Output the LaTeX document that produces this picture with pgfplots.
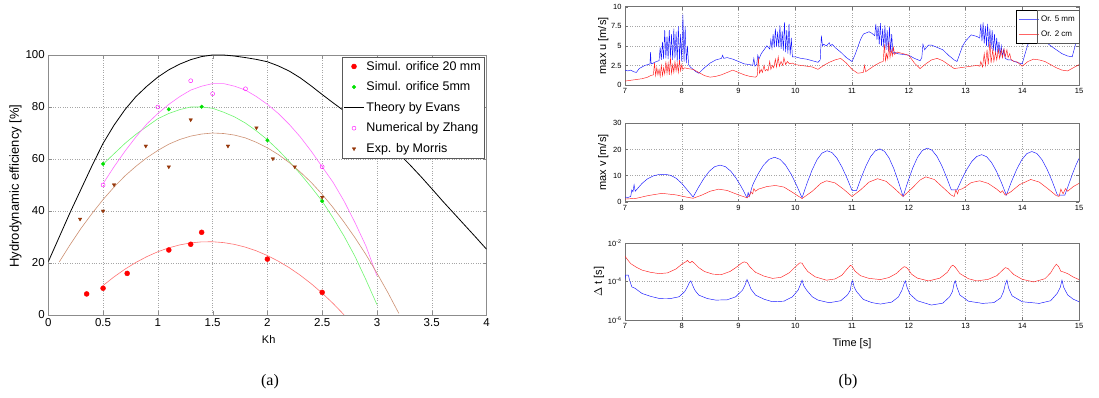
\documentclass[border=0pt]{standalone}
\usepackage{fontspec}
\setmainfont{Liberation Sans}
\newfontfamily\seriffont{Liberation Serif}
\usepackage{pgfplots}
\pgfplotsset{compat=1.18}
\definecolor{cred}{RGB}{255,0,0}
\definecolor{cgreen}{RGB}{0,225,0}
\definecolor{cmag}{RGB}{255,0,255}
\definecolor{cbrown}{RGB}{150,55,10}
\definecolor{fred}{RGB}{255,115,115}
\definecolor{fgreen}{RGB}{110,245,110}
\definecolor{fmag}{RGB}{255,110,255}
\definecolor{fbrown}{RGB}{205,145,115}
\definecolor{bblue}{RGB}{20,20,255}
\definecolor{bred}{RGB}{255,30,30}
\definecolor{lblue}{RGB}{100,100,255}
\definecolor{lred}{RGB}{255,100,100}
\pgfplotsset{
  bstyle/.style={scale only axis, width=454pt, anchor=south west,
    xmin=7, xmax=15, xtick={7,8,...,15},
    grid=major, grid style={dotted, gray!70},
    tick align=inside, major tick length=3pt,
    axis line style={black!55}, tick style={black!55},
    ticklabel style={font=\fontsize{7.5}{8}\selectfont},
    /pgf/number format/assume math mode=true,
    label style={font=\fontsize{11}{12}\selectfont},
    every axis plot/.append style={line width=0.45pt}},
  mleg/.style={legend image code/.code={\draw[mark repeat=2,mark phase=2,##1] plot coordinates {(0pt,0pt) (10pt,0pt) (20pt,0pt)};}},
}
\begin{document}
\begin{tikzpicture}[x=1pt,y=1pt]
\path[use as bounding box] (0,0) rectangle (1099,398);

% ---------------- panel (a)
\begin{axis}[at={(48.3pt,83pt)}, anchor=south west, scale only axis,
  width=438.2pt, height=260pt,
  xmin=0, xmax=4, ymin=0, ymax=100,
  xtick={0,0.5,...,4}, ytick={0,20,...,100},
  grid=major, grid style={dotted, gray!70},
  tick align=inside, major tick length=4pt,
  axis line style={black!45}, tick style={black!45},
  ticklabel style={font=\fontsize{11.5}{13}\selectfont},
  /pgf/number format/assume math mode=true,
  xlabel={Kh}, ylabel={Hydrodynamic efficiency [\%]},
  xlabel style={font=\fontsize{11}{12}\selectfont, at={(axis description cs:0.503,-0.096)}, anchor=center},
  ylabel style={font=\fontsize{13}{14}\selectfont, at={(axis description cs:-0.075,0.496)}, anchor=center},
  legend cell align=left,
  legend style={at={(axis description cs:0.9943,0.9923)}, anchor=north east,
    font=\fontsize{12.5}{14}\selectfont, draw=black!65, row sep=6pt,
    inner xsep=1pt, inner ysep=2pt},
  legend image code/.code={\draw[mark repeat=2,mark phase=2,#1] plot coordinates {(0pt,0pt) (10pt,0pt) (20pt,0pt)};},
]
% fitted curves (not in legend)
\addplot[fred, line width=0.6pt, forget plot] coordinates {
(0.5,11.33)(0.6,14.67)(0.7,17.63)(0.8,20.23)(0.9,22.46)(1.0,24.33)(1.1,25.83)(1.2,26.96)(1.3,27.73)(1.4,28.13)(1.5,28.17)(1.6,27.84)(1.7,27.15)(1.8,26.08)(1.9,24.66)(2.0,22.86)(2.1,20.70)(2.2,18.18)(2.3,15.29)(2.4,12.03)(2.5,8.41)(2.6,4.42)(2.7,0.06)};
\addplot[fgreen, line width=0.6pt, forget plot] coordinates {
(0.5,58)(0.6,62)(0.7,66)(0.8,69.5)(0.9,72.5)(1.0,75.5)(1.1,77.5)(1.2,79)(1.3,80)(1.4,80)(1.5,79.5)(1.6,78)(1.7,76.2)(1.8,73.8)(1.9,70.8)(2.0,67.4)(2.1,63.4)(2.2,59)(2.3,54.3)(2.4,49.2)(2.5,43.8)(2.6,37.3)(2.7,30.3)(2.8,22.5)(2.9,13.5)(3.0,4)};
\addplot[fmag, line width=0.6pt, forget plot] coordinates {
(0.5,50.5)(0.6,57)(0.7,63)(0.8,68.5)(0.9,73.5)(1.0,77.5)(1.1,81)(1.2,84)(1.3,86.5)(1.4,88)(1.5,89)(1.6,89)(1.7,88)(1.8,86.5)(1.9,84)(2.0,81)(2.1,77.5)(2.2,73.3)(2.3,68.5)(2.4,63)(2.5,57)(2.6,51)(2.7,43.8)(2.8,35.5)(2.9,26.5)(3.0,15)};
\addplot[fbrown, line width=0.6pt, forget plot] coordinates {
(0.1,20.4)(0.2,27.1)(0.3,33.4)(0.4,39.1)(0.5,44.4)(0.6,49.2)(0.7,53.5)(0.8,57.2)(0.9,60.5)(1.0,63.3)(1.1,65.7)(1.2,67.5)(1.3,68.8)(1.4,69.6)(1.5,70)(1.6,69.8)(1.7,69.2)(1.8,68.1)(1.9,66.4)(2.0,64.3)(2.1,61.7)(2.2,58.6)(2.3,55.0)(2.4,51.0)(2.5,46.4)(2.6,41.3)(2.7,35.7)(2.8,29.7)(2.9,23.2)(3.0,16.1)(3.1,8.6)(3.2,0.6)};
% legend series
\addplot[only marks, mark=*, mark size=2.5pt, color=cred, draw=cred, mleg] coordinates {
(0.35,8.1)(0.5,10.3)(0.72,16)(1.1,25)(1.3,27.2)(1.4,31.8)(2.0,21.5)(2.5,8.7)};
\addlegendentry{Simul. orifice 20 mm}
\addplot[only marks, mark=*, mark size=1.8pt, color=cgreen, draw=cgreen, mleg] coordinates {
(0.5,58.1)(1.1,79.1)(1.4,80.1)(2.0,67.2)(2.5,43.8)};
\addlegendentry{Simul. orifice 5mm}
\addplot[color=black, draw=black, line width=0.8pt] coordinates {
(0,20.5)(0.1,30)(0.2,39.5)(0.3,48.5)(0.4,57.5)(0.5,66)(0.6,73)(0.7,79)(0.8,84)(0.9,88)(1.0,91.5)(1.1,94.3)(1.2,96.5)(1.3,98.2)(1.4,99.4)(1.5,100)(1.6,100)(1.7,99.6)(1.8,99)(1.9,98.3)(2.0,97.4)(2.1,95.8)(2.2,93.8)(2.3,91.2)(2.4,88.1)(2.5,84.8)(2.6,81.6)(2.7,78.5)(2.8,75.5)(2.9,72.5)(3.0,69.2)(3.1,65.8)(3.2,62)(3.3,57.8)(3.4,53.3)(3.5,48.6)(3.6,43.8)(3.7,39.2)(3.8,34.6)(3.9,30)(4.0,25.3)};
\addlegendentry{Theory by Evans}
\addplot[only marks, mark=o, mark size=2pt, color=cmag, draw=cmag, mleg] coordinates {
(0.5,50)(1.0,80)(1.3,90.1)(1.5,85.1)(1.8,87)(2.5,57)};
\addlegendentry{Numerical by Zhang}
\addplot[only marks, mark=triangle*, mark size=2pt, mark options={rotate=180}, color=cbrown, draw=cbrown, mleg] coordinates {
(0.29,36.9)(0.5,40)(0.6,50.1)(0.89,65)(1.1,57)(1.3,75.1)(1.64,65)(1.9,72)(2.05,60.1)(2.25,57)(2.5,45.3)};
\addlegendentry{Exp. by Morris}
\end{axis}

% ---------------- panel (b) top: max u
\begin{axis}[bstyle, at={(625pt,313pt)}, height=78.3pt,
  ymin=0, ymax=10, ytick={0,2.5,5,7.5,10},
  ylabel={max u [m/s]},
  ylabel style={at={(axis description cs:-0.048,0.5)}, anchor=center},
  legend cell align=left,
  legend style={at={(axis description cs:1,0.96)}, anchor=north east,
    font=\fontsize{8}{9}\selectfont, row sep=4pt, inner xsep=2pt, inner ysep=3.5pt},
  legend image code/.code={\draw[#1] (0pt,0pt) -- (20pt,0pt);},
]
\addplot[color=bblue, forget plot] coordinates {
(7.00,1.9)(7.05,1.8)(7.10,1.9)(7.15,1.7)(7.20,1.6)(7.25,2.1)(7.30,2.3)(7.35,2.5)(7.40,2.6)(7.44,2.7)(7.45,4.2)(7.46,2.7)(7.50,2.8)(7.55,3.0)
(7.60,3.1)(7.62,4.8)(7.64,3.2)(7.66,5.5)(7.68,3.3)(7.70,7.0)(7.72,3.4)(7.74,6.2)(7.76,3.3)(7.78,7.0)(7.80,3.5)(7.82,6.5)(7.84,3.2)(7.86,7.2)(7.88,3.4)(7.90,6.8)(7.92,3.0)(7.94,7.5)(7.96,3.2)(7.98,6.5)(8.00,3.0)(8.02,9.0)(8.04,3.0)(8.06,7.5)(8.08,2.8)(8.10,5.0)(8.12,2.6)(8.15,2.3)
(8.20,2.0)(8.25,1.7)(8.30,1.5)(8.40,2.2)(8.50,2.8)(8.60,3.2)(8.70,3.4)(8.72,3.8)(8.74,3.4)(8.80,3.5)(8.90,3.3)(9.00,3.0)(9.10,2.7)(9.20,2.6)(9.25,2.5)(9.27,3.4)(9.29,2.4)(9.32,2.6)(9.34,3.8)(9.36,3.3)(9.40,4.0)(9.45,4.5)(9.50,5.0)
(9.55,4.6)(9.57,5.8)(9.59,4.7)(9.61,6.5)(9.63,4.8)(9.65,7.2)(9.67,4.9)(9.69,6.8)(9.71,4.8)(9.73,7.6)(9.75,4.6)(9.77,6.9)(9.79,4.4)(9.81,8.0)(9.83,4.2)(9.85,7.0)(9.87,4.0)(9.89,7.8)(9.91,3.8)(9.93,6.0)(9.95,3.6)
(10.00,3.6)(10.10,3.4)(10.20,3.3)(10.30,3.1)(10.40,2.9)(10.44,3.2)(10.46,6.3)(10.48,5.0)(10.50,5.2)(10.55,5.0)(10.60,5.4)(10.62,5.0)(10.65,5.2)(10.70,4.8)(10.80,4.2)(10.90,3.5)(11.00,3.0)(11.05,3.8)(11.10,4.8)(11.15,5.8)(11.20,6.5)(11.30,6.8)(11.35,6.6)
(11.40,6.3)(11.42,7.8)(11.44,5.8)(11.46,7.5)(11.48,5.2)(11.50,7.9)(11.52,5.0)(11.54,7.2)(11.56,4.8)(11.58,7.6)(11.60,4.5)(11.62,7.0)(11.64,4.3)(11.66,7.4)(11.68,4.2)(11.70,6.5)(11.72,4.0)(11.75,4.2)
(11.80,4.0)(11.90,3.9)(12.00,3.8)(12.10,3.4)(12.20,3.1)(12.23,3.5)(12.25,5.2)(12.28,4.5)(12.30,4.7)(12.35,5.1)(12.40,5.1)(12.50,4.8)(12.60,4.5)(12.70,3.8)(12.80,3.2)(12.85,3.0)(12.90,4.0)(12.95,5.0)(13.00,5.6)(13.10,6.4)(13.15,6.3)(13.20,6.2)
(13.25,6.0)(13.27,7.8)(13.29,5.6)(13.31,8.0)(13.33,5.3)(13.35,7.5)(13.37,5.0)(13.39,7.8)(13.41,4.8)(13.43,7.2)(13.45,4.6)(13.47,7.0)(13.49,4.4)(13.51,6.5)(13.53,4.2)(13.55,6.0)(13.57,4.0)(13.59,5.5)(13.61,3.8)(13.63,5.0)(13.65,3.6)(13.67,4.5)(13.70,3.4)(13.75,3.2)
(13.80,3.2)(13.90,2.9)(14.00,2.7)(14.05,4.0)(14.10,5.2)(14.20,6.0)(14.30,6.3)(14.40,5.6)(14.50,5.0)(14.60,4.5)(14.70,4.0)(14.80,3.7)(14.88,3.6)(14.95,5.5)(15.00,6.8)};
\addplot[color=bred, forget plot] coordinates {
(7.00,0.5)(7.10,0.6)(7.20,0.7)(7.30,0.8)(7.40,1.0)(7.45,1.2)
(7.50,1.3)(7.52,2.8)(7.54,1.2)(7.56,2.2)(7.58,1.3)(7.60,2.0)(7.62,1.1)(7.64,2.5)(7.66,1.2)(7.68,2.2)(7.70,1.4)(7.72,3.0)(7.74,1.5)(7.76,2.8)(7.78,1.3)(7.80,3.5)(7.82,1.5)(7.84,2.6)(7.86,1.6)(7.88,3.0)(7.90,1.8)(7.92,2.8)(7.94,1.6)(7.96,3.2)(7.98,1.8)(8.00,2.6)(8.02,2.0)(8.05,2.2)(8.10,2.1)
(8.20,2.0)(8.30,1.6)(8.40,1.2)(8.50,1.0)(8.60,1.1)(8.70,1.3)(8.80,1.6)(8.90,1.9)(9.00,1.6)(9.10,1.3)(9.20,1.1)(9.30,1.0)
(9.33,1.2)(9.35,3.5)(9.37,1.5)(9.40,2.0)(9.42,1.6)(9.45,2.5)(9.47,1.8)(9.50,2.0)(9.52,1.8)(9.55,3.0)(9.57,2.0)(9.60,2.5)(9.62,2.2)(9.65,3.3)(9.67,2.3)(9.70,3.6)(9.72,2.4)(9.75,3.0)(9.78,2.5)(9.80,3.5)(9.83,2.6)(9.86,3.0)(9.90,2.7)(9.95,2.8)(10.00,2.6)
(10.10,2.5)(10.20,2.4)(10.30,2.3)(10.40,2.0)(10.50,2.5)(10.60,2.9)(10.70,3.2)(10.80,3.4)(10.90,2.8)(11.00,2.0)(11.10,1.5)(11.20,1.6)(11.22,2.5)(11.24,1.7)(11.30,2.0)(11.40,2.5)(11.50,2.9)
(11.55,3.0)(11.57,5.2)(11.59,3.1)(11.61,4.0)(11.63,3.3)(11.65,5.5)(11.67,3.5)(11.69,4.5)(11.71,3.7)(11.73,4.8)(11.75,3.9)(11.80,4.2)
(11.90,4.0)(12.00,3.8)(12.10,2.8)(12.20,2.1)(12.30,2.7)(12.40,3.2)(12.50,3.4)(12.60,3.1)(12.70,2.6)(12.80,2.1)(12.90,2.2)(13.00,2.3)(13.10,2.4)(13.20,2.5)
(13.25,2.4)(13.27,3.0)(13.30,2.3)(13.33,4.0)(13.35,2.5)(13.38,4.5)(13.40,2.6)(13.43,5.5)(13.45,2.8)(13.48,4.5)(13.50,3.0)(13.53,4.2)(13.55,3.2)(13.58,4.5)(13.60,3.4)(13.63,4.5)(13.65,3.5)(13.68,4.6)(13.70,3.6)(13.73,4.5)(13.75,3.5)(13.78,4.0)(13.80,3.3)(13.85,3.0)
(13.90,3.0)(14.00,2.4)(14.10,3.0)(14.20,3.3)(14.30,3.2)(14.40,3.0)(14.50,2.6)(14.60,2.2)(14.70,1.9)(14.80,1.8)(14.90,2.2)(15.00,2.6)};
\addlegendimage{lblue, line width=0.6pt}
\addlegendentry{Or. 5 mm}
\addlegendimage{lred, line width=0.6pt}
\addlegendentry{Or. 2 cm}
\end{axis}
% legend frame drawn separately so that it does not recolour legend lines
\begin{axis}[bstyle, at={(625pt,313pt)}, height=78.3pt, hide axis,
  ymin=0, ymax=10,
  legend style={at={(axis description cs:1,0.96)}, anchor=north east,
    font=\fontsize{8}{9}\selectfont, row sep=4pt, inner xsep=2pt, inner ysep=3.5pt,
    draw=black!65, fill=none, text opacity=0},
  legend image code/.code={},
]
\addlegendimage{empty legend}\addlegendentry{\phantom{Or. 5 mm}}
\addlegendimage{empty legend}\addlegendentry{\phantom{Or. 2 cm}}
\end{axis}

% ---------------- panel (b) middle: max v
\begin{axis}[bstyle, at={(625pt,196.3pt)}, height=78.4pt,
  ymin=0, ymax=30, ytick={0,10,20,30},
  ylabel={max v [m/s]},
  ylabel style={at={(axis description cs:-0.048,0.5)}, anchor=center},
]
\addplot[color=bblue] coordinates {
(7.00,1.8)(7.05,1.6)(7.10,2.0)(7.12,4.5)(7.14,3.8)(7.16,6.5)(7.18,4.0)(7.20,4.5)(7.30,7.0)(7.40,8.8)(7.50,9.9)(7.60,10.4)(7.70,10.5)(7.80,10.1)(7.90,9.0)(8.00,7.0)(8.10,4.4)(8.20,1.8)
(8.295,5.5)(8.39,8.9)(8.485,11.65)(8.58,13.4)(8.675,14.0)(8.77,13.4)(8.865,11.65)(8.96,8.9)(9.055,5.5)(9.15,1.5)(9.17,3.5)(9.19,2.0)
(9.247,6.3)(9.344,10.6)(9.441,14.0)(9.538,16.2)(9.635,17.0)(9.732,16.2)(9.829,14.0)(9.926,10.6)(10.023,6.3)(10.12,1.5)
(10.208,7.1)(10.296,12.1)(10.384,16.1)(10.472,18.6)(10.56,19.5)(10.648,18.8)(10.736,16.6)(10.824,13.2)(10.912,9.0)(11.00,4.3)(11.08,4.3)
(11.162,9.2)(11.244,13.6)(11.326,17.2)(11.408,19.4)(11.49,20.2)(11.572,19.3)(11.654,16.7)(11.736,12.7)(11.818,7.6)(11.90,2.0)
(11.985,7.7)(12.07,12.9)(12.155,17.0)(12.24,19.6)(12.325,20.5)(12.41,19.7)(12.495,17.4)(12.58,13.9)(12.665,9.4)(12.75,4.5)(12.85,4.5)
(12.937,8.7)(13.024,12.4)(13.111,15.4)(13.198,17.3)(13.285,18.0)(13.372,17.2)(13.459,15.0)(13.546,11.6)(13.633,7.3)(13.72,2.5)
(13.81,7.7)(13.90,12.3)(13.99,16.0)(14.08,18.4)(14.17,19.2)(14.26,18.4)(14.35,16.0)(14.44,12.3)(14.53,7.7)(14.62,2.5)(14.75,2.5)
(14.80,5.5)(14.85,8.5)(14.90,11.5)(14.95,14.2)(15.00,16.5)};
\addplot[color=bred] coordinates {
(7.0,1.0)(7.2,1.3)(7.4,2.3)(7.65,3.2)(7.9,2.6)(8.05,1.9)(8.2,1.3)(8.35,2.5)(8.5,4.0)(8.65,4.8)(8.8,4.3)(9.0,2.6)(9.15,1.5)(9.2,2.5)(9.22,3.8)(9.25,3.0)(9.27,5.0)(9.3,4.0)(9.35,4.8)(9.5,5.8)(9.65,6.2)(9.8,5.6)(9.95,3.6)(10.12,1.2)(10.3,4.0)(10.45,7.0)(10.55,8.0)(10.7,7.2)(10.85,4.8)(11.0,2.0)(11.15,4.5)(11.3,7.5)(11.45,8.8)(11.6,7.8)(11.75,5.0)(11.9,2.0)(12.05,5.0)(12.2,8.3)(12.3,9.5)(12.45,8.5)(12.6,5.5)(12.75,2.5)(12.8,2.0)(12.83,4.5)(12.86,3.0)(12.88,4.5)(12.95,5.0)(13.1,7.3)(13.25,8.0)(13.4,7.0)(13.55,4.8)(13.62,3.5)(13.65,4.2)(13.7,2.5)(13.8,3.8)(13.95,6.5)(14.15,8.5)(14.3,7.5)(14.45,5.0)(14.6,2.3)(14.65,2.0)(14.68,4.8)(14.72,3.0)(14.76,5.0)(14.8,4.0)(14.9,5.8)(15.0,7.0)};
\end{axis}

% ---------------- panel (b) bottom: delta t
\begin{axis}[bstyle, at={(625pt,78pt)}, height=77pt,
  ymode=log, ymin=1e-6, ymax=1e-2, ytick={1e-6,1e-4,1e-2},
  yticklabels={10\textsuperscript{-6},10\textsuperscript{-4},10\textsuperscript{-2}},
  ylabel={$\Delta$ t [s]}, xlabel={Time [s]},
  ylabel style={at={(axis description cs:-0.057,0.5)}, anchor=center},
  xlabel style={at={(axis description cs:0.5,-0.31)}, anchor=center},
]
\addplot[color=bred] coordinates {
(7.00,2.04e-3)(7.05,1.3e-3)(7.10,8.5e-4)(7.20,5.5e-4)(7.30,3.9e-4)(7.45,3.0e-4)(7.60,2.57e-4)(7.75,2.8e-4)(7.90,4.5e-4)(8.00,7.9e-4)(8.08,1.1e-3)(8.10,1.26e-3)(8.13,1.0e-3)(8.15,9.3e-4)(8.18,1.12e-3)(8.22,9.0e-4)(8.30,5.25e-4)(8.40,3.3e-4)(8.55,2.4e-4)(8.70,2.29e-4)(8.85,3.3e-4)(8.95,5.2e-4)(9.05,8.8e-4)(9.10,1.05e-3)(9.15,9.3e-4)(9.20,5.75e-4)(9.30,3.0e-4)(9.45,1.9e-4)(9.60,1.45e-4)(9.75,1.65e-4)(9.90,2.9e-4)(10.00,5.75e-4)(10.08,9.3e-4)(10.12,9.0e-4)(10.15,6.3e-4)(10.22,3.3e-4)(10.35,1.75e-4)(10.55,1.17e-4)(10.70,1.35e-4)(10.82,2.1e-4)(10.92,4.7e-4)(10.97,6.9e-4)(11.00,6.3e-4)(11.05,3.55e-4)(11.15,2.0e-4)(11.30,1.45e-4)(11.50,1.26e-4)(11.65,1.6e-4)(11.78,2.6e-4)(11.88,4.8e-4)(11.92,5.9e-4)(11.95,5.5e-4)(11.98,4.68e-4)(12.05,2.4e-4)(12.15,1.5e-4)(12.35,1.07e-4)(12.55,1.5e-4)(12.68,3.0e-4)(12.75,6.3e-4)(12.78,7.0e-4)(12.82,5.5e-4)(12.90,2.6e-4)(13.05,1.4e-4)(13.20,1.07e-4)(13.40,1.3e-4)(13.55,2.0e-4)(13.65,3.8e-4)(13.70,5.25e-4)(13.75,4.68e-4)(13.85,2.3e-4)(14.00,1.3e-4)(14.20,9.5e-5)(14.40,1.4e-4)(14.50,2.8e-4)(14.56,5.5e-4)(14.60,7.9e-4)(14.64,6.0e-4)(14.68,3.4e-4)(14.72,3.16e-4)(14.80,2.57e-4)(14.90,1.7e-4)(15.00,1.26e-4)};
\addplot[color=bblue] coordinates {
(7.00,1.27e-4)(7.01,2.13e-4)(7.06,2.13e-4)(7.08,1.17e-4)(7.12,5.3e-5)(7.18,4.35e-5)(7.30,2.39e-5)(7.45,1.7e-5)(7.60,1.32e-5)(7.80,1.3e-5)(7.95,1.6e-5)(8.05,2.92e-5)(8.10,5.3e-5)(8.14,9.5e-5)(8.16,1.08e-4)(8.19,6.5e-5)(8.23,3.56e-5)(8.30,1.96e-5)(8.45,1.3e-5)(8.60,1.08e-5)(8.80,1.12e-5)(8.95,1.6e-5)(9.07,3.56e-5)(9.12,7.0e-5)(9.15,1.27e-4)(9.18,8.0e-5)(9.22,4.0e-5)(9.30,1.96e-5)(9.45,1.2e-5)(9.60,8.87e-6)(9.80,9.5e-6)(9.95,1.6e-5)(10.05,3.56e-5)(10.10,8.0e-5)(10.12,1.17e-4)(10.15,6.0e-5)(10.20,3.56e-5)(10.30,1.6e-5)(10.40,1.08e-5)(10.60,7.89e-6)(10.80,1.0e-5)(10.92,2.0e-5)(10.97,3.56e-5)(10.99,8.0e-5)(11.01,1.08e-4)(11.04,5.0e-5)(11.08,3.0e-5)(11.20,1.17e-5)(11.35,8.0e-6)(11.50,6.73e-6)(11.70,8.5e-6)(11.82,1.6e-5)(11.88,3.56e-5)(11.92,8.0e-5)(11.94,1.08e-4)(11.97,5.0e-5)(12.02,2.2e-5)(12.15,1.0e-5)(12.40,5.97e-6)(12.60,7.5e-6)(12.72,1.6e-5)(12.77,3.0e-5)(12.80,8.0e-5)(12.82,1.08e-4)(12.85,5.0e-5)(12.90,2.0e-5)(13.05,9.5e-6)(13.30,7.28e-6)(13.50,8.0e-6)(13.62,1.4e-5)(13.67,3.0e-5)(13.70,7.0e-5)(13.73,1.17e-4)(13.76,4.5e-5)(13.82,1.8e-5)(14.00,8.87e-6)(14.30,7.28e-6)(14.50,1.0e-5)(14.62,2.5e-5)(14.67,5.0e-5)(14.70,1.17e-4)(14.73,5.0e-5)(14.80,2.0e-5)(14.90,1.2e-5)(15.00,8.87e-6)};
\end{axis}

\node[font=\seriffont\fontsize{16}{18}\selectfont] at (270,16) {(a)};
\node[font=\seriffont\fontsize{16}{18}\selectfont] at (848,16) {(b)};
\end{tikzpicture}
\end{document}
